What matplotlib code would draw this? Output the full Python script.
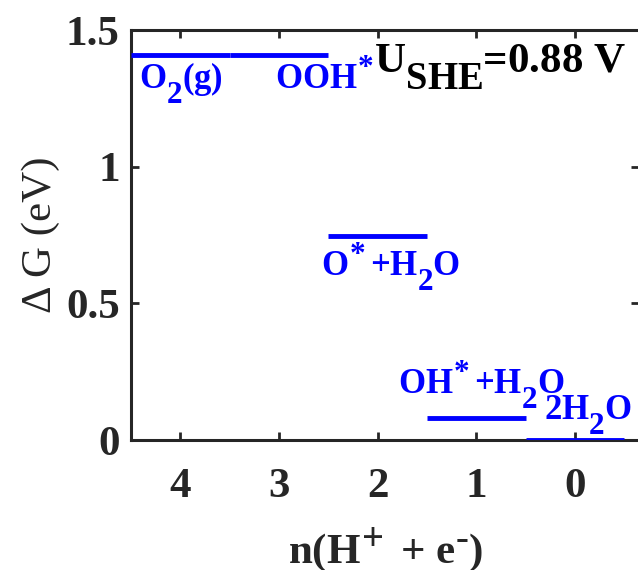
import matplotlib
matplotlib.use("Agg")
import matplotlib.pyplot as plt
import matplotlib._mathtext as mathtext_internal

# free-energy diagram at U_SHE = 0.88 V
n_steps = [4, 3, 2, 1, 0]
dG = [1.41, 1.41, 0.745, 0.08, 0.0]
x_ticks = [4, 3, 2, 1, 0]
y_ticks = [0, 0.5, 1, 1.5]
y_ticklabels = ["0", "0.5", "1", "1.5"]

# species labels: (text, x, y baseline)
labels = [
    ("O$_2$(g)", 4.42, 1.285),
    ("OOH$^{\\!*}$", 3.04, 1.285),
    ("O$^{\\!*}$+H$_2$O", 2.57, 0.60),
    ("OH$^{\\!*}$+H$_2$O", 1.79, 0.17),
    ("2H$_2$O", 0.31, 0.075),
]

# MATLAB-like sub/superscripts: bigger and lower than mathtext defaults
mathtext_internal.SHRINK_FACTOR = 0.9
mathtext_internal.FontConstantsBase.subdrop = 0.9
mathtext_internal.FontConstantsBase.sub1 = 0.9
mathtext_internal.FontConstantsBase.sub2 = 0.9
mathtext_internal.FontConstantsBase.script_space = 0.0

plt.rcParams["font.family"] = "Liberation Serif"
plt.rcParams["mathtext.fontset"] = "custom"
plt.rcParams["mathtext.rm"] = "Liberation Serif:bold"
plt.rcParams["mathtext.it"] = "Liberation Serif:bold"
plt.rcParams["mathtext.bf"] = "Liberation Serif:bold"

dark = "#262626"
blue = "#0000ff"

fig = plt.figure(figsize=(6.38, 5.70), dpi=100)
ax = fig.add_axes([0.205, 0.228, 0.797, 0.719])

for n, g in zip(n_steps, dG):
    ax.plot([n + 0.5, n - 0.5], [g, g], color=blue, linewidth=3.5, solid_capstyle="butt", zorder=3)

for txt, x, y in labels:
    ax.text(x, y, txt, color=blue, fontsize=25, fontweight="bold", va="baseline", ha="left")

ax.text(2.04, 1.345, "U$_{\\mathrm{SHE}}$=0.88 V", color="black", fontsize=31,
        fontweight="bold", va="baseline", ha="left")

ax.set_xlim(4.5, -0.65)
ax.set_ylim(0, 1.5)
ax.set_xticks(x_ticks)
ax.set_xticklabels([str(v) for v in x_ticks])
ax.set_yticks(y_ticks)
ax.set_yticklabels(y_ticklabels)

for lab in ax.get_xticklabels() + ax.get_yticklabels():
    lab.set_fontweight("bold")
    lab.set_fontsize(31)
    lab.set_color(dark)

ax.tick_params(axis="both", direction="in", length=6, width=2, colors=dark,
               top=True, right=True)
ax.tick_params(axis="x", pad=20)
ax.tick_params(axis="y", pad=8)
for s in ax.spines.values():
    s.set_linewidth(2.2)
    s.set_color(dark)

ax.set_xlabel("n(H$^{\\!+}$ + e$^{\\text{-}}$)", fontsize=31, fontweight="bold", color=dark, labelpad=14)
ax.set_ylabel("\u0394 G (eV)", fontsize=31, color=dark, labelpad=4)

fig.savefig("out.png", dpi=100)
